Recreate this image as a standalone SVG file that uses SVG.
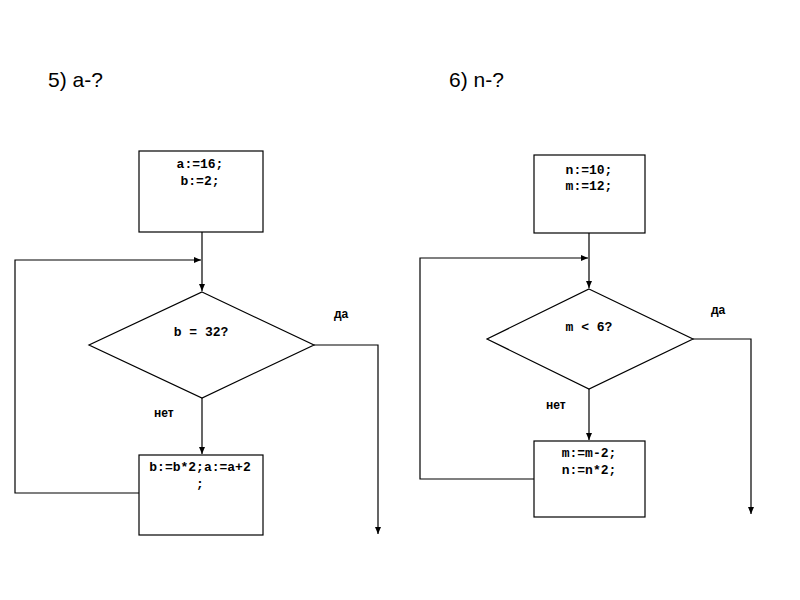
<svg xmlns="http://www.w3.org/2000/svg" width="800" height="600" viewBox="0 0 800 600">
<style>
.s{fill:none;stroke:#000;stroke-width:1.2}
.n{fill:#fff;stroke:#000;stroke-width:1.2}
.t{font-family:"Liberation Mono",monospace;font-weight:bold;font-size:13px;fill:#000;text-anchor:middle}
.l{font-family:"Liberation Sans",Arial,sans-serif;font-weight:bold;font-size:12px;fill:#000}
.h{font-family:"Liberation Sans",Arial,sans-serif;font-size:21px;fill:#000}
</style>
<defs>
<marker id="a" markerWidth="8" markerHeight="8" refX="7" refY="4" orient="auto" markerUnits="userSpaceOnUse">
<path d="M0,1 L7,4 L0,7 Z" fill="#000"/>
</marker>
</defs>
<rect width="800" height="600" fill="#fff"/>
<text class="h" x="48" y="87">5) a-?</text>
<text class="h" x="449" y="87">6) n-?</text>
<g id="connectors">
<path class="s" d="M202,232 V291" marker-end="url(#a)"/>
<path class="s" d="M139,493 H15 V260 H201" marker-end="url(#a)"/>
<path class="s" d="M314,345 H378 V534" marker-end="url(#a)"/>
<path class="s" d="M202,398 V454" marker-end="url(#a)"/>
<path class="s" d="M589,233 V288" marker-end="url(#a)"/>
<path class="s" d="M534,479 H420 V258 H588" marker-end="url(#a)"/>
<path class="s" d="M693,339 H751 V514" marker-end="url(#a)"/>
<path class="s" d="M589,389 V440" marker-end="url(#a)"/>
<text class="l" x="334" y="318">да</text>
<text class="l" x="154" y="417">нет</text>
<text class="l" x="711" y="314">да</text>
<text class="l" x="546" y="409">нет</text>
</g>
<g id="init1">
<rect class="n" x="139" y="151" width="124" height="81"/>
<text class="t" x="200" y="168">a:=16;</text>
<text class="t" x="200" y="185">b:=2;</text>
</g>
<g id="cond1">
<polygon class="n" points="202,292 314,345 202,398 89,345"/>
<text class="t" x="201" y="336">b = 32?</text>
</g>
<g id="body1">
<rect class="n" x="139" y="455" width="124" height="80"/>
<text class="t" x="200" y="471">b:=b*2;a:=a+2</text>
<text class="t" x="200" y="488">;</text>
</g>
<g id="init2">
<rect class="n" x="534" y="155" width="111" height="78"/>
<text class="t" x="589" y="174">n:=10;</text>
<text class="t" x="589" y="190">m:=12;</text>
</g>
<g id="cond2">
<polygon class="n" points="589,289 693,339 589,389 487,339"/>
<text class="t" x="589" y="331">m &lt; 6?</text>
</g>
<g id="body2">
<rect class="n" x="534" y="441" width="111" height="76"/>
<text class="t" x="589" y="457">m:=m-2;</text>
<text class="t" x="589" y="474">n:=n*2;</text>
</g>
</svg>
